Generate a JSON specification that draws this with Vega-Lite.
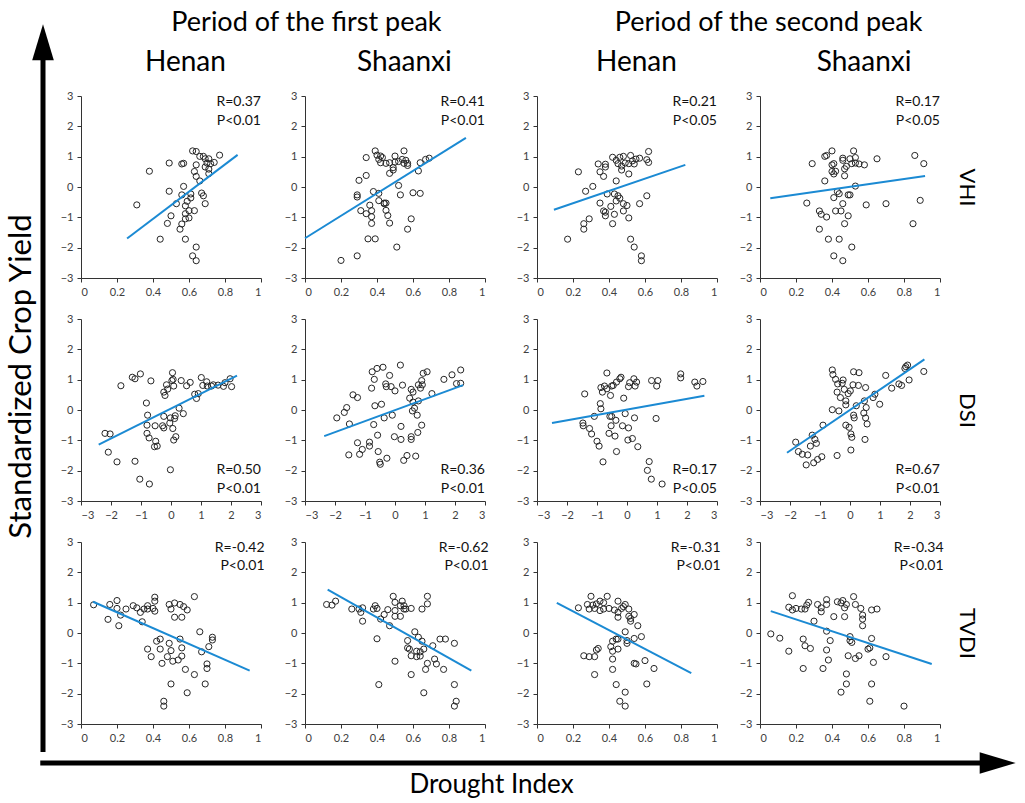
{
"$schema":"https://vega.github.io/schema/vega-lite/v6.json",
"background":"white",
"padding":{"left":5,"top":9,"right":5,"bottom":5},
"config":{
 "view":{"stroke":null},
 "font":"Lato",
 "axis":{"labelFont":"Lato","labelFontSize":11,"labelColor":"#404040","domainColor":"#333333","tickColor":"#333333","tickSize":4,"labelPadding":4,"grid":false,"titleFont":"Lato","titleFontWeight":"normal","titleColor":"#000000"},
 "title":{"font":"Lato","fontWeight":"normal","color":"#000000","anchor":"middle"},
 "point":{"shape":"circle","size":38,"filled":false,"stroke":"#262626","strokeWidth":1,"opacity":1},
 "line":{"color":"#1b8ad3","strokeWidth":2},
 "text":{"align":"right","baseline":"middle","fontSize":14,"font":"Lato","color":"#111111"}
},
"datasets":{
 "notes":[
  {"g":"1HV","r":"R=0.37","p":"P<0.01"},{"g":"1SV","r":"R=0.41","p":"P<0.01"},{"g":"2HV","r":"R=0.21","p":"P<0.05"},{"g":"2SV","r":"R=0.17","p":"P<0.05"},
  {"g":"1HD","r":"R=0.50","p":"P<0.01"},{"g":"1SD","r":"R=0.36","p":"P<0.01"},{"g":"2HD","r":"R=0.17","p":"P<0.05"},{"g":"2SD","r":"R=0.67","p":"P<0.01"},
  {"g":"1HT","r":"R=-0.42","p":"P<0.01"},{"g":"1ST","r":"R=-0.62","p":"P<0.01"},{"g":"2HT","r":"R=-0.31","p":"P<0.01"},{"g":"2ST","r":"R=-0.34","p":"P<0.01"}
 ],
 "fits":[
  {"g":"1HV","x":0.256,"y":-1.70},{"g":"1HV","x":0.87,"y":1.06},
  {"g":"1SV","x":0.0,"y":-1.69},{"g":"1SV","x":0.894,"y":1.62},
  {"g":"2HV","x":0.094,"y":-0.75},{"g":"2HV","x":0.824,"y":0.73},
  {"g":"2SV","x":0.057,"y":-0.37},{"g":"2SV","x":0.917,"y":0.36},
  {"g":"1HD","x":-2.41,"y":-1.14},{"g":"1HD","x":2.20,"y":1.13},
  {"g":"1SD","x":-2.36,"y":-0.86},{"g":"1SD","x":2.27,"y":0.82},
  {"g":"2HD","x":-2.50,"y":-0.43},{"g":"2HD","x":2.58,"y":0.47},
  {"g":"2SD","x":-2.10,"y":-1.41},{"g":"2SD","x":2.48,"y":1.67},
  {"g":"1HT","x":0.067,"y":1.03},{"g":"1HT","x":0.937,"y":-1.24},
  {"g":"1ST","x":0.126,"y":1.43},{"g":"1ST","x":0.924,"y":-1.24},
  {"g":"2HT","x":0.11,"y":0.99},{"g":"2HT","x":0.857,"y":-1.32},
  {"g":"2ST","x":0.06,"y":0.72},{"g":"2ST","x":0.954,"y":-1.02}
 ],
 "d1HV":[{"x":0.31,"y":-0.59},{"x":0.38,"y":0.52},{"x":0.49,"y":0.79},{"x":0.49,"y":-0.14},{"x":0.50,"y":-0.95},{"x":0.48,"y":-1.2},{"x":0.44,"y":-1.72},{"x":0.53,"y":-0.55},{"x":0.56,"y":0.76},{"x":0.57,"y":0.78},{"x":0.57,"y":0.02},{"x":0.56,"y":-0.26},{"x":0.56,"y":-1.22},{"x":0.55,"y":-1.39},{"x":0.58,"y":-1.72},{"x":0.58,"y":-0.62},{"x":0.58,"y":-0.88},{"x":0.58,"y":-1.05},{"x":0.59,"y":-0.47},{"x":0.60,"y":-0.78},{"x":0.60,"y":-1.02},{"x":0.61,"y":-0.36},{"x":0.61,"y":-0.23},{"x":0.63,"y":-0.78},{"x":0.62,"y":1.19},{"x":0.64,"y":1.17},{"x":0.66,"y":1.01},{"x":0.63,"y":0.51},{"x":0.64,"y":0.35},{"x":0.64,"y":0.73},{"x":0.66,"y":0.2},{"x":0.67,"y":-0.2},{"x":0.68,"y":-0.29},{"x":0.69,"y":-0.55},{"x":0.68,"y":1.01},{"x":0.69,"y":0.93},{"x":0.69,"y":0.66},{"x":0.70,"y":0.79},{"x":0.71,"y":0.93},{"x":0.71,"y":0.59},{"x":0.71,"y":0.44},{"x":0.72,"y":0.77},{"x":0.74,"y":0.81},{"x":0.77,"y":1.05},{"x":0.64,"y":-1.98},{"x":0.62,"y":-2.27},{"x":0.64,"y":-2.43}],
 "d1SV":[{"x":0.20,"y":-2.42},{"x":0.29,"y":-2.27},{"x":0.30,"y":0.22},{"x":0.29,"y":-0.33},{"x":0.29,"y":-0.26},{"x":0.31,"y":-0.78},{"x":0.34,"y":-0.88},{"x":0.34,"y":0.97},{"x":0.34,"y":0.38},{"x":0.35,"y":-1.71},{"x":0.36,"y":-0.6},{"x":0.37,"y":-0.78},{"x":0.37,"y":-1.2},{"x":0.37,"y":-0.98},{"x":0.38,"y":-0.15},{"x":0.39,"y":1.19},{"x":0.39,"y":-1.71},{"x":0.40,"y":1.05},{"x":0.41,"y":0.91},{"x":0.41,"y":-0.21},{"x":0.41,"y":-0.45},{"x":0.42,"y":0.80},{"x":0.42,"y":1.02},{"x":0.43,"y":0.97},{"x":0.44,"y":-0.53},{"x":0.44,"y":-0.55},{"x":0.45,"y":-0.53},{"x":0.45,"y":0.78},{"x":0.45,"y":-0.77},{"x":0.46,"y":-0.94},{"x":0.47,"y":-1.19},{"x":0.47,"y":0.45},{"x":0.47,"y":0.80},{"x":0.49,"y":0.56},{"x":0.49,"y":0.64},{"x":0.50,"y":1.02},{"x":0.50,"y":0.82},{"x":0.51,"y":-1.98},{"x":0.52,"y":0.84},{"x":0.52,"y":0.05},{"x":0.53,"y":-0.26},{"x":0.54,"y":0.91},{"x":0.55,"y":1.19},{"x":0.55,"y":0.78},{"x":0.56,"y":0.88},{"x":0.57,"y":0.71},{"x":0.57,"y":-1.39},{"x":0.57,"y":0.78},{"x":0.59,"y":-1.05},{"x":0.60,"y":-0.19},{"x":0.63,"y":0.53},{"x":0.64,"y":-0.21},{"x":0.64,"y":0.80},{"x":0.67,"y":0.91},{"x":0.69,"y":0.95}],
 "d2HV":[{"x":0.17,"y":-1.72},{"x":0.23,"y":0.50},{"x":0.26,"y":-1.21},{"x":0.26,"y":-1.39},{"x":0.27,"y":-0.14},{"x":0.29,"y":-1.05},{"x":0.31,"y":0.02},{"x":0.34,"y":0.76},{"x":0.35,"y":0.50},{"x":0.35,"y":-0.53},{"x":0.37,"y":0.35},{"x":0.38,"y":0.66},{"x":0.38,"y":0.75},{"x":0.37,"y":-0.79},{"x":0.38,"y":-0.95},{"x":0.38,"y":-0.83},{"x":0.39,"y":-0.23},{"x":0.41,"y":-0.64},{"x":0.42,"y":-1.21},{"x":0.42,"y":0.98},{"x":0.43,"y":-0.9},{"x":0.43,"y":-0.23},{"x":0.44,"y":0.88},{"x":0.44,"y":0.20},{"x":0.44,"y":-0.46},{"x":0.45,"y":-0.29},{"x":0.45,"y":0.77},{"x":0.46,"y":0.98},{"x":0.46,"y":-0.37},{"x":0.47,"y":0.56},{"x":0.47,"y":0.69},{"x":0.48,"y":1.01},{"x":0.48,"y":-0.79},{"x":0.48,"y":-0.55},{"x":0.49,"y":0.79},{"x":0.50,"y":-0.61},{"x":0.51,"y":0.77},{"x":0.51,"y":0.43},{"x":0.51,"y":-1.02},{"x":0.52,"y":1.04},{"x":0.52,"y":-1.72},{"x":0.53,"y":0.86},{"x":0.54,"y":0.76},{"x":0.54,"y":-1.98},{"x":0.55,"y":0.92},{"x":0.57,"y":-0.55},{"x":0.57,"y":0.95},{"x":0.58,"y":-2.27},{"x":0.58,"y":-2.43},{"x":0.61,"y":0.9},{"x":0.61,"y":-0.29},{"x":0.62,"y":1.17},{"x":0.62,"y":0.81}],
 "d2SV":[{"x":0.29,"y":0.77},{"x":0.26,"y":-0.53},{"x":0.33,"y":-0.79},{"x":0.34,"y":-0.9},{"x":0.33,"y":-1.39},{"x":0.36,"y":0.2},{"x":0.36,"y":1.01},{"x":0.37,"y":1.04},{"x":0.37,"y":-0.99},{"x":0.38,"y":-1.72},{"x":0.40,"y":0.73},{"x":0.40,"y":0.51},{"x":0.40,"y":1.19},{"x":0.41,"y":0.77},{"x":0.41,"y":0.43},{"x":0.42,"y":0.52},{"x":0.41,"y":-0.35},{"x":0.42,"y":-0.79},{"x":0.41,"y":-2.27},{"x":0.43,"y":-0.15},{"x":0.44,"y":-1.72},{"x":0.44,"y":-0.22},{"x":0.45,"y":-0.79},{"x":0.46,"y":-0.55},{"x":0.46,"y":0.95},{"x":0.46,"y":0.88},{"x":0.46,"y":-2.43},{"x":0.47,"y":-1.21},{"x":0.47,"y":0.6},{"x":0.47,"y":0.37},{"x":0.48,"y":0.68},{"x":0.49,"y":-0.26},{"x":0.49,"y":-0.95},{"x":0.50,"y":-0.26},{"x":0.50,"y":0.93},{"x":0.51,"y":0.77},{"x":0.51,"y":-1.98},{"x":0.52,"y":1.19},{"x":0.53,"y":0.79},{"x":0.53,"y":0.97},{"x":0.53,"y":0.03},{"x":0.55,"y":0.76},{"x":0.58,"y":0.73},{"x":0.59,"y":-0.59},{"x":0.65,"y":0.93},{"x":0.70,"y":-0.55},{"x":0.85,"y":-1.21},{"x":0.86,"y":1.04},{"x":0.89,"y":-0.44},{"x":0.91,"y":0.77}],
 "d1HD":[{"x":-2.20,"y":-0.77},{"x":-2.03,"y":-0.79},{"x":-2.09,"y":-1.39},{"x":-1.80,"y":-1.71},{"x":-1.67,"y":0.80},{"x":-1.29,"y":1.08},{"x":-1.20,"y":1.03},{"x":-1.02,"y":1.19},{"x":-1.20,"y":-1.69},{"x":-1.04,"y":-2.28},{"x":-0.72,"y":-2.44},{"x":-0.82,"y":0.23},{"x":-0.78,"y":-0.17},{"x":-0.80,"y":-0.5},{"x":-0.80,"y":-0.77},{"x":-0.73,"y":-0.92},{"x":-0.67,"y":0.96},{"x":-0.53,"y":-0.52},{"x":-0.51,"y":-1.03},{"x":-0.55,"y":-1.21},{"x":-0.46,"y":-1.19},{"x":-0.24,"y":0.59},{"x":-0.20,"y":0.48},{"x":-0.15,"y":0.83},{"x":-0.24,"y":-0.21},{"x":-0.28,"y":-0.52},{"x":-0.24,"y":-0.59},{"x":-0.11,"y":0.69},{"x":-0.04,"y":-0.43},{"x":-0.02,"y":-0.26},{"x":-0.02,"y":-1.97},{"x":0.03,"y":0.97},{"x":0.05,"y":1.23},{"x":0.06,"y":-0.61},{"x":0.07,"y":1.01},{"x":0.09,"y":0.79},{"x":0.12,"y":-0.28},{"x":0.09,"y":-0.99},{"x":0.14,"y":-0.19},{"x":0.16,"y":-0.88},{"x":0.27,"y":0.06},{"x":0.34,"y":0.97},{"x":0.41,"y":-0.12},{"x":0.52,"y":0.80},{"x":0.64,"y":0.91},{"x":0.79,"y":0.52},{"x":0.85,"y":0.38},{"x":0.91,"y":0.54},{"x":1.01,"y":1.07},{"x":1.06,"y":0.81},{"x":1.19,"y":0.93},{"x":1.21,"y":0.79},{"x":1.35,"y":0.79},{"x":1.41,"y":0.83},{"x":1.57,"y":0.82},{"x":1.75,"y":0.78},{"x":1.80,"y":0.90},{"x":1.97,"y":1.03},{"x":2.02,"y":0.77}],
 "d1SD":[{"x":-1.94,"y":-0.26},{"x":-1.69,"y":-0.08},{"x":-1.61,"y":0.08},{"x":-1.52,"y":-0.46},{"x":-1.54,"y":-1.48},{"x":-1.40,"y":0.5},{"x":-1.25,"y":0.41},{"x":-1.25,"y":-1.08},{"x":-1.18,"y":-1.46},{"x":-1.09,"y":-1.3},{"x":-0.85,"y":-1.06},{"x":-0.85,"y":-1.19},{"x":-0.78,"y":0.72},{"x":-0.76,"y":1.26},{"x":-0.71,"y":-0.48},{"x":-0.69,"y":1.01},{"x":-0.67,"y":0.14},{"x":-0.60,"y":1.37},{"x":-0.58,"y":-0.83},{"x":-0.56,"y":-1.37},{"x":-0.51,"y":-1.72},{"x":-0.49,"y":-1.79},{"x":-0.45,"y":0.19},{"x":-0.40,"y":1.41},{"x":-0.36,"y":-0.26},{"x":-0.31,"y":0.86},{"x":-0.29,"y":0.77},{"x":-0.27,"y":-1.59},{"x":-0.18,"y":1.14},{"x":-0.13,"y":0.77},{"x":-0.09,"y":-0.17},{"x":0.0,"y":0.63},{"x":-0.02,"y":-0.88},{"x":0.18,"y":1.48},{"x":0.20,"y":-0.54},{"x":0.20,"y":-0.97},{"x":0.25,"y":0.82},{"x":0.29,"y":-1.66},{"x":0.40,"y":-1.5},{"x":0.49,"y":0.39},{"x":0.54,"y":0.68},{"x":0.54,"y":-0.88},{"x":0.54,"y":-0.97},{"x":0.58,"y":-0.03},{"x":0.60,"y":0.26},{"x":0.60,"y":0.59},{"x":0.65,"y":0.06},{"x":0.69,"y":-1.52},{"x":0.74,"y":-0.17},{"x":0.76,"y":-0.74},{"x":0.78,"y":0.83},{"x":0.78,"y":0.3},{"x":0.85,"y":0.72},{"x":0.89,"y":0.97},{"x":0.89,"y":-0.5},{"x":0.91,"y":0.83},{"x":0.94,"y":1.21},{"x":1.07,"y":1.26},{"x":1.23,"y":0.54},{"x":1.63,"y":1.01},{"x":1.90,"y":1.16},{"x":2.05,"y":0.87},{"x":2.19,"y":0.88},{"x":2.19,"y":1.32}],
 "d2HD":[{"x":-1.41,"y":0.53},{"x":-1.47,"y":-0.43},{"x":-1.46,"y":-0.52},{"x":-1.25,"y":-0.61},{"x":-1.18,"y":-0.79},{"x":-1.09,"y":-0.21},{"x":-1.0,"y":-1.03},{"x":-0.93,"y":-1.19},{"x":-0.89,"y":0.21},{"x":-0.87,"y":0.04},{"x":-0.87,"y":0.74},{"x":-0.82,"y":0.59},{"x":-0.80,"y":-1.71},{"x":-0.75,"y":0.79},{"x":-0.67,"y":1.22},{"x":-0.67,"y":0.7},{"x":-0.60,"y":-0.77},{"x":-0.57,"y":-0.21},{"x":-0.55,"y":0.48},{"x":-0.53,"y":-0.52},{"x":-0.51,"y":-0.21},{"x":-0.51,"y":0.79},{"x":-0.46,"y":0.81},{"x":-0.40,"y":-0.86},{"x":-0.37,"y":-0.34},{"x":-0.35,"y":-1.37},{"x":-0.35,"y":0.92},{"x":-0.24,"y":1.03},{"x":-0.20,"y":1.08},{"x":-0.15,"y":-0.52},{"x":-0.11,"y":0.39},{"x":-0.06,"y":-0.12},{"x":0.03,"y":-0.99},{"x":0.05,"y":0.77},{"x":0.05,"y":-0.59},{"x":0.09,"y":0.9},{"x":0.18,"y":-0.94},{"x":0.23,"y":1.03},{"x":0.25,"y":-0.26},{"x":0.27,"y":0.79},{"x":0.32,"y":0.92},{"x":0.36,"y":-1.21},{"x":0.68,"y":-1.99},{"x":0.74,"y":-1.7},{"x":0.81,"y":-2.28},{"x":0.82,"y":0.97},{"x":0.99,"y":0.79},{"x":1.03,"y":0.97},{"x":0.97,"y":-0.28},{"x":1.17,"y":-2.44},{"x":1.79,"y":1.19},{"x":1.79,"y":1.06},{"x":2.26,"y":0.92},{"x":2.33,"y":0.79},{"x":2.53,"y":0.94}],
 "d2SD":[{"x":-1.81,"y":-1.06},{"x":-1.72,"y":-1.37},{"x":-1.59,"y":-1.46},{"x":-1.46,"y":-1.81},{"x":-1.41,"y":-1.48},{"x":-1.32,"y":-1.19},{"x":-1.26,"y":-0.83},{"x":-1.21,"y":-1.74},{"x":-1.17,"y":-0.97},{"x":-1.12,"y":-1.1},{"x":-1.08,"y":-1.63},{"x":-0.94,"y":-1.54},{"x":-0.90,"y":-0.5},{"x":-0.59,"y":1.32},{"x":-0.57,"y":1.17},{"x":-0.59,"y":0.01},{"x":-0.48,"y":1.01},{"x":-0.43,"y":0.59},{"x":-0.43,"y":-1.5},{"x":-0.41,"y":0.86},{"x":-0.37,"y":-0.03},{"x":-0.32,"y":0.41},{"x":-0.26,"y":0.88},{"x":-0.23,"y":0.99},{"x":-0.19,"y":0.68},{"x":-0.14,"y":0.3},{"x":-0.14,"y":0.17},{"x":-0.14,"y":-0.5},{"x":-0.06,"y":0.54},{"x":-0.03,"y":-0.57},{"x":0.01,"y":0.63},{"x":0.03,"y":-0.79},{"x":0.06,"y":-0.9},{"x":0.03,"y":-1.32},{"x":0.1,"y":0.83},{"x":0.12,"y":1.26},{"x":0.12,"y":-0.17},{"x":0.14,"y":-0.26},{"x":0.21,"y":0.14},{"x":0.28,"y":0.81},{"x":0.30,"y":1.23},{"x":0.46,"y":-0.1},{"x":0.48,"y":0.3},{"x":0.50,"y":-0.97},{"x":0.52,"y":0.74},{"x":0.52,"y":-0.26},{"x":0.54,"y":0.08},{"x":0.57,"y":-0.46},{"x":0.77,"y":0.41},{"x":0.83,"y":0.52},{"x":0.99,"y":0.19},{"x":1.19,"y":1.14},{"x":1.39,"y":0.72},{"x":1.63,"y":0.86},{"x":1.72,"y":0.81},{"x":1.83,"y":1.37},{"x":1.86,"y":1.43},{"x":1.92,"y":1.48},{"x":1.97,"y":0.99},{"x":2.46,"y":1.27}],
 "d1HT":[{"x":0.07,"y":0.93},{"x":0.15,"y":0.45},{"x":0.16,"y":0.94},{"x":0.20,"y":1.07},{"x":0.20,"y":0.81},{"x":0.21,"y":0.24},{"x":0.22,"y":0.59},{"x":0.25,"y":0.79},{"x":0.29,"y":0.9},{"x":0.31,"y":0.83},{"x":0.33,"y":0.68},{"x":0.34,"y":0.37},{"x":0.35,"y":0.79},{"x":0.37,"y":0.9},{"x":0.37,"y":-0.53},{"x":0.37,"y":0.79},{"x":0.39,"y":-0.78},{"x":0.40,"y":0.81},{"x":0.41,"y":0.72},{"x":0.41,"y":1.18},{"x":0.41,"y":1.05},{"x":0.42,"y":-0.27},{"x":0.44,"y":-0.2},{"x":0.44,"y":-0.53},{"x":0.45,"y":-1.0},{"x":0.46,"y":-2.25},{"x":0.46,"y":-2.41},{"x":0.48,"y":-0.78},{"x":0.49,"y":-0.34},{"x":0.49,"y":0.94},{"x":0.50,"y":-1.68},{"x":0.50,"y":-0.58},{"x":0.50,"y":0.79},{"x":0.51,"y":-0.93},{"x":0.52,"y":0.99},{"x":0.52,"y":0.52},{"x":0.54,"y":-0.89},{"x":0.55,"y":0.94},{"x":0.55,"y":-0.2},{"x":0.56,"y":0.52},{"x":0.56,"y":-0.49},{"x":0.56,"y":-0.76},{"x":0.57,"y":0.87},{"x":0.58,"y":-1.2},{"x":0.59,"y":-1.97},{"x":0.59,"y":0.76},{"x":0.63,"y":-1.37},{"x":0.63,"y":1.2},{"x":0.66,"y":0.04},{"x":0.67,"y":-0.62},{"x":0.69,"y":-1.68},{"x":0.70,"y":-1.02},{"x":0.70,"y":-1.17},{"x":0.71,"y":-0.45},{"x":0.73,"y":-0.14},{"x":0.73,"y":-0.23}],
 "d1ST":[{"x":0.12,"y":0.94},{"x":0.15,"y":0.92},{"x":0.17,"y":1.05},{"x":0.26,"y":0.79},{"x":0.30,"y":0.79},{"x":0.31,"y":0.68},{"x":0.32,"y":0.83},{"x":0.32,"y":0.39},{"x":0.38,"y":0.79},{"x":0.39,"y":0.9},{"x":0.40,"y":0.81},{"x":0.40,"y":-0.19},{"x":0.41,"y":-1.70},{"x":0.42,"y":0.46},{"x":0.44,"y":0.61},{"x":0.46,"y":0.77},{"x":0.47,"y":0.24},{"x":0.49,"y":1.21},{"x":0.50,"y":-0.93},{"x":0.50,"y":1.01},{"x":0.50,"y":0.74},{"x":0.50,"y":0.55},{"x":0.53,"y":0.9},{"x":0.53,"y":0.55},{"x":0.54,"y":1.05},{"x":0.55,"y":0.79},{"x":0.55,"y":0.9},{"x":0.56,"y":0.79},{"x":0.57,"y":-0.25},{"x":0.57,"y":-0.49},{"x":0.58,"y":-0.53},{"x":0.59,"y":-1.37},{"x":0.59,"y":-0.75},{"x":0.59,"y":0.81},{"x":0.61,"y":0.04},{"x":0.62,"y":-0.6},{"x":0.62,"y":-0.78},{"x":0.63,"y":-0.14},{"x":0.64,"y":-0.76},{"x":0.64,"y":-0.62},{"x":0.65,"y":-0.27},{"x":0.65,"y":0.79},{"x":0.66,"y":-0.53},{"x":0.66,"y":-1.97},{"x":0.67,"y":-1.2},{"x":0.68,"y":1.21},{"x":0.68,"y":0.96},{"x":0.68,"y":-1.0},{"x":0.71,"y":-0.42},{"x":0.72,"y":-0.86},{"x":0.73,"y":-1.02},{"x":0.75,"y":-0.2},{"x":0.77,"y":-1.2},{"x":0.78,"y":-0.2},{"x":0.83,"y":-0.34},{"x":0.83,"y":-1.70},{"x":0.84,"y":-2.25},{"x":0.83,"y":-2.41}],
 "d2HT":[{"x":0.23,"y":0.83},{"x":0.26,"y":-0.75},{"x":0.28,"y":0.94},{"x":0.29,"y":0.79},{"x":0.29,"y":-0.78},{"x":0.30,"y":1.21},{"x":0.31,"y":0.92},{"x":0.32,"y":-0.78},{"x":0.32,"y":-1.37},{"x":0.32,"y":0.81},{"x":0.33,"y":0.96},{"x":0.33,"y":-0.56},{"x":0.34,"y":-0.51},{"x":0.35,"y":1.05},{"x":0.35,"y":0.74},{"x":0.37,"y":1.0},{"x":0.37,"y":0.79},{"x":0.39,"y":1.21},{"x":0.40,"y":0.81},{"x":0.41,"y":-0.45},{"x":0.42,"y":-0.27},{"x":0.42,"y":-1.2},{"x":0.42,"y":-0.86},{"x":0.42,"y":-0.6},{"x":0.43,"y":0.76},{"x":0.44,"y":-0.2},{"x":0.44,"y":-1.70},{"x":0.45,"y":0.52},{"x":0.45,"y":1.05},{"x":0.45,"y":-0.53},{"x":0.45,"y":-0.2},{"x":0.45,"y":0.68},{"x":0.46,"y":-2.25},{"x":0.47,"y":0.81},{"x":0.48,"y":0.87},{"x":0.49,"y":-1.95},{"x":0.49,"y":-2.41},{"x":0.49,"y":0.94},{"x":0.49,"y":0.04},{"x":0.50,"y":-0.25},{"x":0.50,"y":-0.34},{"x":0.51,"y":0.55},{"x":0.51,"y":0.79},{"x":0.52,"y":0.39},{"x":0.52,"y":0.48},{"x":0.54,"y":0.61},{"x":0.54,"y":-0.18},{"x":0.54,"y":-1.0},{"x":0.55,"y":-1.02},{"x":0.56,"y":0.24},{"x":0.58,"y":-0.12},{"x":0.60,"y":-0.91},{"x":0.61,"y":-1.68},{"x":0.65,"y":-1.17}],
 "d2ST":[{"x":0.06,"y":-0.03},{"x":0.11,"y":-0.17},{"x":0.16,"y":-0.6},{"x":0.16,"y":0.85},{"x":0.18,"y":1.23},{"x":0.18,"y":0.76},{"x":0.20,"y":0.81},{"x":0.23,"y":0.79},{"x":0.24,"y":-0.2},{"x":0.25,"y":-0.42},{"x":0.25,"y":0.79},{"x":0.26,"y":0.92},{"x":0.27,"y":1.01},{"x":0.28,"y":-0.51},{"x":0.24,"y":-1.17},{"x":0.30,"y":0.39},{"x":0.32,"y":0.94},{"x":0.34,"y":0.7},{"x":0.35,"y":-1.17},{"x":0.34,"y":0.83},{"x":0.37,"y":0.94},{"x":0.37,"y":1.1},{"x":0.37,"y":0.06},{"x":0.37,"y":-0.56},{"x":0.38,"y":-0.89},{"x":0.39,"y":-0.25},{"x":0.41,"y":0.54},{"x":0.43,"y":1.03},{"x":0.45,"y":-1.95},{"x":0.45,"y":0.99},{"x":0.46,"y":1.07},{"x":0.47,"y":0.83},{"x":0.47,"y":0.54},{"x":0.48,"y":0.94},{"x":0.48,"y":-1.35},{"x":0.48,"y":-1.68},{"x":0.49,"y":-0.75},{"x":0.50,"y":-0.12},{"x":0.50,"y":-0.25},{"x":0.51,"y":-0.31},{"x":0.52,"y":1.2},{"x":0.53,"y":0.94},{"x":0.53,"y":-0.84},{"x":0.55,"y":-0.75},{"x":0.56,"y":0.81},{"x":0.57,"y":0.59},{"x":0.57,"y":0.46},{"x":0.57,"y":0.24},{"x":0.60,"y":-0.53},{"x":0.61,"y":-0.49},{"x":0.61,"y":-2.25},{"x":0.62,"y":-1.68},{"x":0.62,"y":0.76},{"x":0.62,"y":-0.18},{"x":0.63,"y":-0.97},{"x":0.65,"y":0.79},{"x":0.70,"y":-0.78},{"x":0.80,"y":-2.41}]
},
"vconcat":[
 {"hconcat":[
  {"width":20,"height":656,"data":{"values":[{"k":"arrow"}]},
   "layer":[
    {"mark":{"type":"rule","strokeWidth":5,"color":"#000000","strokeCap":"butt"},
     "encoding":{"x":{"datum":0.3,"type":"quantitative","scale":{"domain":[0,1]},"axis":null},
      "y":{"datum":0,"type":"quantitative","scale":{"domain":[0,1]},"axis":{"title":"Standardized Crop Yield","domain":false,"ticks":false,"labels":false,"titleFontSize":31,"titlePadding":0,"titleY":280}},
      "y2":{"datum":1.082}}},
    {"mark":{"type":"point","shape":"M0,-1L0.6,1L-0.6,1Z","size":1296,"filled":true,"color":"#000000","strokeWidth":0,"opacity":1},
     "encoding":{"x":{"datum":0.3,"type":"quantitative"},"y":{"datum":1.082,"type":"quantitative"}}}
   ]},
  {"hconcat":[
   {"title":{"text":"Period of the first peak","fontSize":27,"dx":32,"offset":12},"spacing":19,
    "hconcat":[
     {"title":{"text":"Henan","fontSize":28,"dx":23,"offset":13},"spacing":16,"vconcat":[
      {"width":180,"height":182,"resolve":{"axis":{"x":"independent","y":"independent"}},"layer":[
       {"data":{"name":"d1HV"},"mark":"point","encoding":{"x":{"field":"x","type":"quantitative","scale":{"domain":[0,1]},"axis":{"values":[0,0.2,0.4,0.6,0.8,1],"format":"~g","title":null}},"y":{"field":"y","type":"quantitative","scale":{"domain":[-3,3]},"axis":{"values":[-3,-2,-1,0,1,2,3],"title":null}}}},
       {"data":{"name":"fits"},"transform":[{"filter":"datum.g=='1HV'"}],"mark":"line","encoding":{"x":{"field":"x","type":"quantitative","axis":null},"y":{"field":"y","type":"quantitative","axis":null}}},
       {"data":{"name":"notes"},"transform":[{"filter":"datum.g=='1HV'"}],"mark":"text","encoding":{"x":{"datum":1,"axis":null},"y":{"datum":2.8,"axis":null},"text":{"field":"r"}}},
       {"data":{"name":"notes"},"transform":[{"filter":"datum.g=='1HV'"}],"mark":"text","encoding":{"x":{"datum":1,"axis":null},"y":{"datum":2.17,"axis":null},"text":{"field":"p"}}}
      ]},
      {"width":180,"height":182,"resolve":{"axis":{"x":"independent","y":"independent"}},"layer":[
       {"data":{"name":"d1HD"},"mark":"point","encoding":{"x":{"field":"x","type":"quantitative","scale":{"domain":[-3,3]},"axis":{"values":[-3,-2,-1,0,1,2,3],"title":null}},"y":{"field":"y","type":"quantitative","scale":{"domain":[-3,3]},"axis":{"values":[-3,-2,-1,0,1,2,3],"title":null}}}},
       {"data":{"name":"fits"},"transform":[{"filter":"datum.g=='1HD'"}],"mark":"line","encoding":{"x":{"field":"x","type":"quantitative","axis":null},"y":{"field":"y","type":"quantitative","axis":null}}},
       {"data":{"name":"notes"},"transform":[{"filter":"datum.g=='1HD'"}],"mark":"text","encoding":{"x":{"datum":3,"axis":null},"y":{"datum":-1.97,"axis":null},"text":{"field":"r"}}},
       {"data":{"name":"notes"},"transform":[{"filter":"datum.g=='1HD'"}],"mark":"text","encoding":{"x":{"datum":3,"axis":null},"y":{"datum":-2.6,"axis":null},"text":{"field":"p"}}}
      ]},
      {"width":180,"height":182,"resolve":{"axis":{"x":"independent","y":"independent"}},"layer":[
       {"data":{"name":"d1HT"},"mark":"point","encoding":{"x":{"field":"x","type":"quantitative","scale":{"domain":[0,1]},"axis":{"values":[0,0.2,0.4,0.6,0.8,1],"format":"~g","title":null}},"y":{"field":"y","type":"quantitative","scale":{"domain":[-3,3]},"axis":{"values":[-3,-2,-1,0,1,2,3],"title":null}}}},
       {"data":{"name":"fits"},"transform":[{"filter":"datum.g=='1HT'"}],"mark":"line","encoding":{"x":{"field":"x","type":"quantitative","axis":null},"y":{"field":"y","type":"quantitative","axis":null}}},
       {"data":{"name":"notes"},"transform":[{"filter":"datum.g=='1HT'"}],"mark":"text","encoding":{"x":{"datum":1.02,"axis":null},"y":{"datum":2.81,"axis":null},"text":{"field":"r"}}},
       {"data":{"name":"notes"},"transform":[{"filter":"datum.g=='1HT'"}],"mark":"text","encoding":{"x":{"datum":1.02,"axis":null},"y":{"datum":2.2,"axis":null},"text":{"field":"p"}}}
      ]}
     ]},
     {"title":{"text":"Shaanxi","fontSize":28,"dx":18,"offset":13},"spacing":16,"vconcat":[
      {"width":180,"height":182,"resolve":{"axis":{"x":"independent","y":"independent"}},"layer":[
       {"data":{"name":"d1SV"},"mark":"point","encoding":{"x":{"field":"x","type":"quantitative","scale":{"domain":[0,1]},"axis":{"values":[0,0.2,0.4,0.6,0.8,1],"format":"~g","title":null}},"y":{"field":"y","type":"quantitative","scale":{"domain":[-3,3]},"axis":{"values":[-3,-2,-1,0,1,2,3],"title":null}}}},
       {"data":{"name":"fits"},"transform":[{"filter":"datum.g=='1SV'"}],"mark":"line","encoding":{"x":{"field":"x","type":"quantitative","axis":null},"y":{"field":"y","type":"quantitative","axis":null}}},
       {"data":{"name":"notes"},"transform":[{"filter":"datum.g=='1SV'"}],"mark":"text","encoding":{"x":{"datum":1,"axis":null},"y":{"datum":2.8,"axis":null},"text":{"field":"r"}}},
       {"data":{"name":"notes"},"transform":[{"filter":"datum.g=='1SV'"}],"mark":"text","encoding":{"x":{"datum":1,"axis":null},"y":{"datum":2.17,"axis":null},"text":{"field":"p"}}}
      ]},
      {"width":180,"height":182,"resolve":{"axis":{"x":"independent","y":"independent"}},"layer":[
       {"data":{"name":"d1SD"},"mark":"point","encoding":{"x":{"field":"x","type":"quantitative","scale":{"domain":[-3,3]},"axis":{"values":[-3,-2,-1,0,1,2,3],"title":null}},"y":{"field":"y","type":"quantitative","scale":{"domain":[-3,3]},"axis":{"values":[-3,-2,-1,0,1,2,3],"title":null}}}},
       {"data":{"name":"fits"},"transform":[{"filter":"datum.g=='1SD'"}],"mark":"line","encoding":{"x":{"field":"x","type":"quantitative","axis":null},"y":{"field":"y","type":"quantitative","axis":null}}},
       {"data":{"name":"notes"},"transform":[{"filter":"datum.g=='1SD'"}],"mark":"text","encoding":{"x":{"datum":3,"axis":null},"y":{"datum":-1.97,"axis":null},"text":{"field":"r"}}},
       {"data":{"name":"notes"},"transform":[{"filter":"datum.g=='1SD'"}],"mark":"text","encoding":{"x":{"datum":3,"axis":null},"y":{"datum":-2.6,"axis":null},"text":{"field":"p"}}}
      ]},
      {"width":180,"height":182,"resolve":{"axis":{"x":"independent","y":"independent"}},"layer":[
       {"data":{"name":"d1ST"},"mark":"point","encoding":{"x":{"field":"x","type":"quantitative","scale":{"domain":[0,1]},"axis":{"values":[0,0.2,0.4,0.6,0.8,1],"format":"~g","title":null}},"y":{"field":"y","type":"quantitative","scale":{"domain":[-3,3]},"axis":{"values":[-3,-2,-1,0,1,2,3],"title":null}}}},
       {"data":{"name":"fits"},"transform":[{"filter":"datum.g=='1ST'"}],"mark":"line","encoding":{"x":{"field":"x","type":"quantitative","axis":null},"y":{"field":"y","type":"quantitative","axis":null}}},
       {"data":{"name":"notes"},"transform":[{"filter":"datum.g=='1ST'"}],"mark":"text","encoding":{"x":{"datum":1.02,"axis":null},"y":{"datum":2.81,"axis":null},"text":{"field":"r"}}},
       {"data":{"name":"notes"},"transform":[{"filter":"datum.g=='1ST'"}],"mark":"text","encoding":{"x":{"datum":1.02,"axis":null},"y":{"datum":2.2,"axis":null},"text":{"field":"p"}}}
      ]}
     ]}
    ]},
   {"title":{"text":"Period of the second peak","fontSize":27,"dx":22,"offset":12},"spacing":18,
    "hconcat":[
     {"title":{"text":"Henan","fontSize":28,"dx":18,"offset":13},"spacing":16,"vconcat":[
      {"width":180,"height":182,"resolve":{"axis":{"x":"independent","y":"independent"}},"layer":[
       {"data":{"name":"d2HV"},"mark":"point","encoding":{"x":{"field":"x","type":"quantitative","scale":{"domain":[0,1]},"axis":{"values":[0,0.2,0.4,0.6,0.8,1],"format":"~g","title":null}},"y":{"field":"y","type":"quantitative","scale":{"domain":[-3,3]},"axis":{"values":[-3,-2,-1,0,1,2,3],"title":null}}}},
       {"data":{"name":"fits"},"transform":[{"filter":"datum.g=='2HV'"}],"mark":"line","encoding":{"x":{"field":"x","type":"quantitative","axis":null},"y":{"field":"y","type":"quantitative","axis":null}}},
       {"data":{"name":"notes"},"transform":[{"filter":"datum.g=='2HV'"}],"mark":"text","encoding":{"x":{"datum":1,"axis":null},"y":{"datum":2.8,"axis":null},"text":{"field":"r"}}},
       {"data":{"name":"notes"},"transform":[{"filter":"datum.g=='2HV'"}],"mark":"text","encoding":{"x":{"datum":1,"axis":null},"y":{"datum":2.17,"axis":null},"text":{"field":"p"}}}
      ]},
      {"width":180,"height":182,"resolve":{"axis":{"x":"independent","y":"independent"}},"layer":[
       {"data":{"name":"d2HD"},"mark":"point","encoding":{"x":{"field":"x","type":"quantitative","scale":{"domain":[-3,3]},"axis":{"values":[-3,-2,-1,0,1,2,3],"title":null}},"y":{"field":"y","type":"quantitative","scale":{"domain":[-3,3]},"axis":{"values":[-3,-2,-1,0,1,2,3],"title":null}}}},
       {"data":{"name":"fits"},"transform":[{"filter":"datum.g=='2HD'"}],"mark":"line","encoding":{"x":{"field":"x","type":"quantitative","axis":null},"y":{"field":"y","type":"quantitative","axis":null}}},
       {"data":{"name":"notes"},"transform":[{"filter":"datum.g=='2HD'"}],"mark":"text","encoding":{"x":{"datum":3,"axis":null},"y":{"datum":-1.97,"axis":null},"text":{"field":"r"}}},
       {"data":{"name":"notes"},"transform":[{"filter":"datum.g=='2HD'"}],"mark":"text","encoding":{"x":{"datum":3,"axis":null},"y":{"datum":-2.6,"axis":null},"text":{"field":"p"}}}
      ]},
      {"width":180,"height":182,"resolve":{"axis":{"x":"independent","y":"independent"}},"layer":[
       {"data":{"name":"d2HT"},"mark":"point","encoding":{"x":{"field":"x","type":"quantitative","scale":{"domain":[0,1]},"axis":{"values":[0,0.2,0.4,0.6,0.8,1],"format":"~g","title":null}},"y":{"field":"y","type":"quantitative","scale":{"domain":[-3,3]},"axis":{"values":[-3,-2,-1,0,1,2,3],"title":null}}}},
       {"data":{"name":"fits"},"transform":[{"filter":"datum.g=='2HT'"}],"mark":"line","encoding":{"x":{"field":"x","type":"quantitative","axis":null},"y":{"field":"y","type":"quantitative","axis":null}}},
       {"data":{"name":"notes"},"transform":[{"filter":"datum.g=='2HT'"}],"mark":"text","encoding":{"x":{"datum":1.02,"axis":null},"y":{"datum":2.81,"axis":null},"text":{"field":"r"}}},
       {"data":{"name":"notes"},"transform":[{"filter":"datum.g=='2HT'"}],"mark":"text","encoding":{"x":{"datum":1.02,"axis":null},"y":{"datum":2.2,"axis":null},"text":{"field":"p"}}}
      ]}
     ]},
     {"title":{"text":"Shaanxi","fontSize":28,"dx":6,"offset":13},"spacing":16,"vconcat":[
      {"width":180,"height":182,"resolve":{"axis":{"x":"independent","y":"independent"}},"layer":[
       {"data":{"name":"d2SV"},"mark":"point","encoding":{"x":{"field":"x","type":"quantitative","scale":{"domain":[0,1]},"axis":{"values":[0,0.2,0.4,0.6,0.8,1],"format":"~g","title":null}},"y":{"field":"y","type":"quantitative","scale":{"domain":[-3,3]},"axis":{"values":[-3,-2,-1,0,1,2,3],"title":null}}}},
       {"data":{"name":"fits"},"transform":[{"filter":"datum.g=='2SV'"}],"mark":"line","encoding":{"x":{"field":"x","type":"quantitative","axis":null},"y":{"field":"y","type":"quantitative","axis":{"orient":"right","domain":false,"ticks":false,"labels":false,"title":"VHI","titleAngle":90,"titleFontSize":22,"titlePadding":14}}}},
       {"data":{"name":"notes"},"transform":[{"filter":"datum.g=='2SV'"}],"mark":"text","encoding":{"x":{"datum":1,"axis":null},"y":{"datum":2.8,"axis":null},"text":{"field":"r"}}},
       {"data":{"name":"notes"},"transform":[{"filter":"datum.g=='2SV'"}],"mark":"text","encoding":{"x":{"datum":1,"axis":null},"y":{"datum":2.17,"axis":null},"text":{"field":"p"}}}
      ]},
      {"width":180,"height":182,"resolve":{"axis":{"x":"independent","y":"independent"}},"layer":[
       {"data":{"name":"d2SD"},"mark":"point","encoding":{"x":{"field":"x","type":"quantitative","scale":{"domain":[-3,3]},"axis":{"values":[-3,-2,-1,0,1,2,3],"title":null}},"y":{"field":"y","type":"quantitative","scale":{"domain":[-3,3]},"axis":{"values":[-3,-2,-1,0,1,2,3],"title":null}}}},
       {"data":{"name":"fits"},"transform":[{"filter":"datum.g=='2SD'"}],"mark":"line","encoding":{"x":{"field":"x","type":"quantitative","axis":null},"y":{"field":"y","type":"quantitative","axis":{"orient":"right","domain":false,"ticks":false,"labels":false,"title":"DSI","titleAngle":90,"titleFontSize":22,"titlePadding":14}}}},
       {"data":{"name":"notes"},"transform":[{"filter":"datum.g=='2SD'"}],"mark":"text","encoding":{"x":{"datum":3,"axis":null},"y":{"datum":-1.97,"axis":null},"text":{"field":"r"}}},
       {"data":{"name":"notes"},"transform":[{"filter":"datum.g=='2SD'"}],"mark":"text","encoding":{"x":{"datum":3,"axis":null},"y":{"datum":-2.6,"axis":null},"text":{"field":"p"}}}
      ]},
      {"width":180,"height":182,"resolve":{"axis":{"x":"independent","y":"independent"}},"layer":[
       {"data":{"name":"d2ST"},"mark":"point","encoding":{"x":{"field":"x","type":"quantitative","scale":{"domain":[0,1]},"axis":{"values":[0,0.2,0.4,0.6,0.8,1],"format":"~g","title":null}},"y":{"field":"y","type":"quantitative","scale":{"domain":[-3,3]},"axis":{"values":[-3,-2,-1,0,1,2,3],"title":null}}}},
       {"data":{"name":"fits"},"transform":[{"filter":"datum.g=='2ST'"}],"mark":"line","encoding":{"x":{"field":"x","type":"quantitative","axis":null},"y":{"field":"y","type":"quantitative","axis":{"orient":"right","domain":false,"ticks":false,"labels":false,"title":"TVDI","titleAngle":90,"titleFontSize":22,"titlePadding":14}}}},
       {"data":{"name":"notes"},"transform":[{"filter":"datum.g=='2ST'"}],"mark":"text","encoding":{"x":{"datum":1.02,"axis":null},"y":{"datum":2.81,"axis":null},"text":{"field":"r"}}},
       {"data":{"name":"notes"},"transform":[{"filter":"datum.g=='2ST'"}],"mark":"text","encoding":{"x":{"datum":1.02,"axis":null},"y":{"datum":2.2,"axis":null},"text":{"field":"p"}}}
      ]}
     ]}
    ]}
  ],"spacing":27}
 ],"spacing":3},
 {"width":908,"height":16,"data":{"values":[{"k":"arrow"}]},
  "layer":[
   {"mark":{"type":"rule","strokeWidth":5,"color":"#000000","strokeCap":"butt"},
    "encoding":{"y":{"datum":0.5,"type":"quantitative","scale":{"domain":[0,1]},"axis":null},
     "x":{"datum":0.0036,"type":"quantitative","scale":{"domain":[0,1]},"axis":{"title":"Drought Index","domain":false,"ticks":false,"labels":false,"titleFontSize":26,"titlePadding":0}},
     "x2":{"datum":1.058}}},
   {"mark":{"type":"point","shape":"M1,0L-1,-0.6L-1,0.6Z","size":1296,"filled":true,"color":"#000000","strokeWidth":0,"opacity":1},
    "encoding":{"x":{"datum":1.058,"type":"quantitative"},"y":{"datum":0.5,"type":"quantitative"}}}
  ]}
],
"spacing":-26
}
